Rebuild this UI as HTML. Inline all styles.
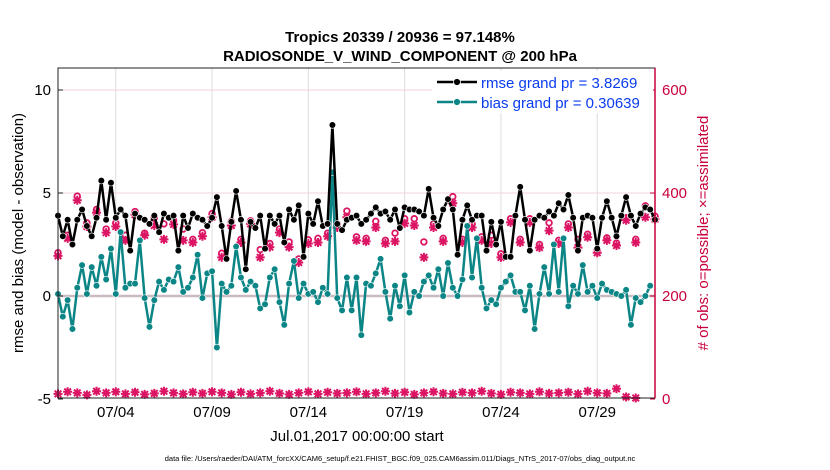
<!DOCTYPE html>
<html><head><meta charset="utf-8"><style>
body{margin:0;background:#fff;}
svg{display:block;font-family:"Liberation Sans",sans-serif;}
</style></head><body>
<svg id="chart" width="830" height="470" viewBox="0 0 830 470">
<rect width="830" height="470" fill="#fff"/>
<text x="400" y="42" text-anchor="middle" font-size="15" font-weight="bold">Tropics 20339 / 20936 = 97.148%</text>
<text x="400" y="61" text-anchor="middle" font-size="15" font-weight="bold">RADIOSONDE_V_WIND_COMPONENT @ 200 hPa</text>
<g id="grid"></g>
<g id="series"></g>
<rect x="58" y="68" width="597" height="330" fill="none" stroke="#222" stroke-width="1"/>
<line x1="655" y1="68" x2="655" y2="398" stroke="#c8003c" stroke-width="1.5"/>
<g id="axes" font-size="15"></g>
<text transform="translate(23,233) rotate(-90)" text-anchor="middle" font-size="15">rmse and bias (model - observation)</text>
<text transform="translate(708,233) rotate(-90)" text-anchor="middle" font-size="15" fill="#c8003c"># of obs: o=possible; ×=assimilated</text>
<text x="357" y="441" text-anchor="middle" font-size="15">Jul.01,2017 00:00:00 start</text>
<text x="400" y="461" text-anchor="middle" font-size="7.5">data file: /Users/raeder/DAI/ATM_forcXX/CAM6_setup/f.e21.FHIST_BGC.f09_025.CAM6assim.011/Diags_NTrS_2017-07/obs_diag_output.nc</text>
<g>
<rect x="432" y="71" width="221" height="42" fill="#fff"/>
<g>
<line x1="437" y1="82" x2="477" y2="82" stroke="#000" stroke-width="2.5"/>
<circle cx="457" cy="82" r="3.5" fill="#000" stroke="#fff" stroke-width="0.8"/>
<text x="481" y="88" font-size="15" fill="#0a3cf0">rmse grand pr = 3.8269</text></g>
<g>
<line x1="437" y1="102" x2="477" y2="102" stroke="#0b8585" stroke-width="2.5"/>
<circle cx="457" cy="102" r="3.5" fill="#0b8585" stroke="#fff" stroke-width="0.8"/>
<text x="481" y="108" font-size="15" fill="#0a3cf0">bias grand pr = 0.30639</text></g>
</g>
</svg>
<script>
const rmse=[3.9,2.9,3.7,2.5,3.7,4.2,3.4,2.9,3.8,5.6,3.7,5.5,3.8,4.2,3.9,2.2,4.0,3.8,3.7,3.5,3.9,3.1,4.0,3.8,3.9,2.2,3.9,3.3,4.0,3.8,3.7,
3.4,3.8,4.8,3.4,1.8,3.6,5.1,3.7,1.3,3.6,3.3,3.9,2.3,3.9,3.5,3.9,2.6,4.2,3.7,4.4,1.9,4.0,3.5,4.6,3.4,3.5,8.3,3.5,3.2,3.7,3.8,
3.9,3.5,3.7,4.0,4.3,4.0,4.1,3.7,4.2,3.3,4.3,4.2,4.2,4.1,3.9,5.2,3.8,3.4,4.2,4.7,4.2,2.0,3.7,4.4,3.7,3.9,3.9,2.2,3.6,2.5,3.6,1.9,
1.9,3.9,5.3,3.7,2.2,3.7,3.9,3.8,4.1,3.9,4.5,4.2,4.9,3.8,2.2,3.8,3.9,3.8,2.3,3.8,4.6,3.8,2.9,3.9,4.8,3.9,3.4,4.0,4.3,4.2,3.7];
const bias=[0.1,-1.0,-0.2,-1.6,0.4,1.5,0.1,1.4,0.5,1.9,0.8,2.3,0.1,3.1,0.4,0.6,0.6,2.7,-0.1,-1.5,-0.2,0.7,0.3,0.8,0.7,1.4,0.2,0.4,0.9,2.0,-0.1,1.1,
1.2,-2.5,0.6,0.2,0.5,2.4,0.9,0.3,0.7,0.5,-0.6,-0.4,0.9,1.3,-0.3,-1.4,0.6,1.7,-0.1,0.6,0.1,0.2,-0.3,0.4,0.1,6.0,-0.1,-0.7,0.9,-0.7,0.9,
-1.9,0.6,0.5,1.1,1.8,0.2,-1.1,0.5,-0.5,1.0,-0.8,0.2,0.0,0.7,1.0,0.4,1.3,0.0,1.6,0.4,0.0,0.8,3.4,0.9,2.8,0.4,-0.6,-0.2,-0.4,0.4,
0.7,1.0,0.2,0.2,-0.7,0.5,-1.6,0.1,1.4,0.1,2.5,0.2,2.8,-0.5,0.5,0.1,1.5,0.2,0.5,-0.1,0.6,0.3,0.2,0.1,0.0,0.3,-1.4,-0.1,-0.3,0.0,0.5];
const assimilated=[278,312,386,335,362,323,335,308,358,318,337,310,339,308,304,316,
353,275,337,304,340,275,295,323,295,265,302,304,316,333,353,308,
306,333,302,306,341,337,275,333,306,380,304,333,308,302,275,343,
304,343,294,327,302,333,294,314,284,308,298,347,304,353,349];
const possible=[284,318,394,342,368,330,342,318,364,322,352,340,347,330,310,323,
360,283,345,310,346,290,302,330,305,272,309,312,322,340,365,315,
312,345,308,322,350,350,305,340,312,393,310,340,315,318,282,350,
310,350,300,342,308,340,310,320,290,313,303,352,310,375,355];
const rejected=[10,14,12,8,15,12,14,10,13,9,11,15,12,10,13,11,14,12,9,13,10,12,15,11,9,12,14,10,13,11,12,
14,10,12,15,11,13,9,12,14,11,10,13,12,15,11,9,13,12,10,14,11,12,13,10,15,12,11,20,4,2];
const xTickLabels=["07/04","07/09","07/14","07/19","07/24","07/29"];
const xTickDays=[3,8,13,18,23,28];
const leftTicks=[10,5,0,-5];
const rightTicks=[600,400,200,0];

const NS="http://www.w3.org/2000/svg";
const X0=58,X1=655,Y0=68,Y1=398,DAYS=31;
function xs(d){return X0+d*(X1-X0)/DAYS;}
function yl(v){return 296-v*20.6;}
function yr(n){return yl(n/40-5);}
function mk(tag,attrs,parent){const e=document.createElementNS(NS,tag);for(const k in attrs)e.setAttribute(k,attrs[k]);parent.appendChild(e);return e;}
const grid=document.getElementById('grid'),ser=document.getElementById('series'),axes=document.getElementById('axes');
xTickDays.forEach((d,i)=>{
 const l=mk('line',{x1:xs(d),x2:xs(d),y1:Y0,y2:Y1,stroke:'#ddd','stroke-width':1},grid);
 
 
 const t=mk('text',{x:xs(d),y:417,'text-anchor':'middle'},axes);t.textContent=xTickLabels[i];
 
 
});
rightTicks.forEach(n=>{
 if(n>0&&n!==200){const g=mk('line',{x1:X0,x2:X1,y1:yr(n),y2:yr(n),stroke:'#f3d3df','stroke-width':1},grid);
 
 }
 const t=mk('text',{x:662,y:yr(n)+5,fill:'#c8003c'},axes);t.textContent=n;
 
 
 mk('line',{x1:X1-5,x2:X1,y1:yr(n),y2:yr(n),stroke:'#c8003c'},axes);
});
leftTicks.forEach(v=>{
 const t=mk('text',{x:51,y:yl(v)+5,'text-anchor':'end'},axes);t.textContent=v;
 
 
 mk('line',{x1:X0,x2:X0+5,y1:yl(v),y2:yl(v),stroke:'#222'},axes);
});
const zl=mk('line',{x1:X0,x2:X1,y1:yl(0),y2:yl(0),stroke:'#c9b9c0','stroke-width':2.5},grid);


function star(cx,cy,parent){
 const g=mk('g',{},parent);
 
 
 mk('path',{d:`M${cx-4.5},${cy}H${cx+4.5}M${cx},${cy-4.5}V${cy+4.5}M${cx-3.3},${cy-3.3}L${cx+3.3},${cy+3.3}M${cx-3.3},${cy+3.3}L${cx+3.3},${cy-3.3}`,stroke:'#db1463','stroke-width':2},g);
 mk('circle',{cx:cx,cy:cy,r:2.6,fill:'#db1463'},g);
}
possible.forEach((n,i)=>{const c=mk('circle',{cx:xs(i*0.5),cy:yr(n),r:2.8,fill:'none',stroke:'#db1463','stroke-width':1.8},ser);
 
 });
assimilated.forEach((n,i)=>star(xs(i*0.5),yr(n),ser));
rejected.forEach((n,i)=>star(xs(i*0.5),yr(n),ser));
function line(arr,color,name){
 const pts=arr.map((v,i)=>xs(i*0.25).toFixed(1)+','+yl(v).toFixed(1)).join(' ');
 const p=mk('polyline',{points:pts,fill:'none',stroke:color,'stroke-width':2.5,'stroke-linejoin':'round'},ser);
 
 
 arr.forEach((v,i)=>{const c=mk('circle',{cx:xs(i*0.25),cy:yl(v),r:3.3,fill:color,stroke:'#fff','stroke-width':0.6},ser);
  
  });
}
line(bias,'#0b8585','bias');
line(rmse,'#000','rmse');
</script>
</body></html>
